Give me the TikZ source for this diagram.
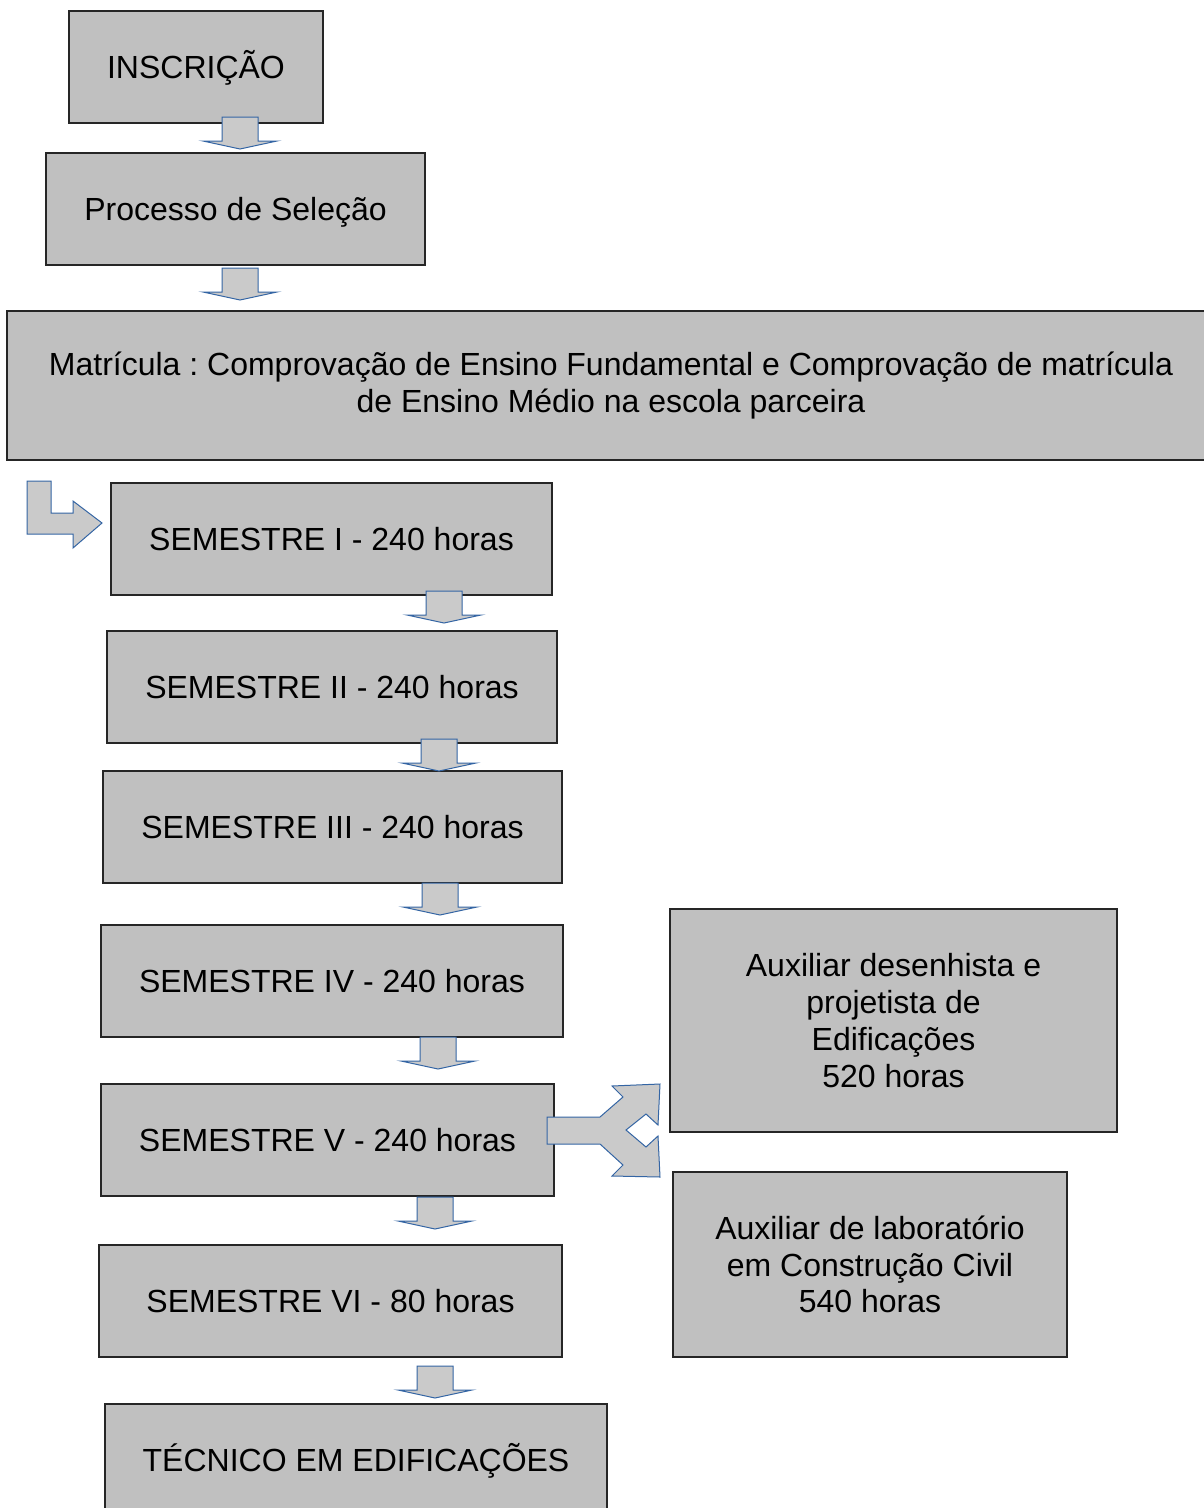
\documentclass[tikz,border=0pt]{standalone}
\usepackage{fontspec}
\setmainfont{Liberation Sans}
\usepackage{tikz}
\usetikzlibrary{calc,positioning}
\usepackage{xcolor}
\definecolor{boxgray}{HTML}{C0C0C0}
\definecolor{arrowgray}{HTML}{CACACA}
\definecolor{arrowblue}{HTML}{3465A4}
\frenchspacing

\tikzset{
  stepbox/.style={draw=black!85, line width=1.2pt, fill=boxgray, inner sep=0pt,
    align=center, font=\fontsize{32}{36.8}\selectfont},
  oneline/.style={text height=23, text depth=0},
  blkarrow/.style={draw=arrowblue, line width=1pt, fill=arrowgray, line join=miter}
}

\begin{document}
\begin{tikzpicture}[x=1pt, y=-1pt]
\clip (0,0) rectangle (1204,1508);
\fill[white] (0,0) rectangle (1204,1508);

% Top of the flow
\node[stepbox, oneline, minimum width=254, minimum height=112] (insc) at (196,67) {INSCRIÇÃO};
\node[stepbox, oneline, minimum width=379, minimum height=112] (sel) at (235.5,209) {Processo de Seleção};
\node[stepbox, minimum width=1208, minimum height=149] (mat) at (611,385.5)
  {Matrícula : Comprovação de Ensino Fundamental e Comprovação de matrícula\\de Ensino Médio na escola parceira};

% The six semesters and the final title
\foreach \i/\x/\y/\w/\t in {1/331.5/539/441/SEMESTRE I - 240 horas,
                             2/332/687/450/SEMESTRE II - 240 horas,
                             3/332.5/827/459/SEMESTRE III - 240 horas,
                             4/332/981/462/SEMESTRE IV - 240 horas,
                             5/327.5/1140/453/SEMESTRE V - 240 horas,
                             6/330.5/1301/463/SEMESTRE VI - 80 horas} {
    \node[stepbox, oneline, minimum width=\w, minimum height=112] (s\i) at (\x,\y) {\t};
}
\node[stepbox, oneline, minimum width=502, minimum height=112] (tec) at (356,1460) {TÉCNICO EM EDIFICAÇÕES};

% Certifications on the right
\node[stepbox, minimum width=447, minimum height=223] (aux1) at (893.5,1020.5)
  {Auxiliar desenhista e\\projetista de\\Edificações\\520 horas};
\node[stepbox, minimum width=394, minimum height=185] (aux2) at (870,1264.5)
  {Auxiliar de laboratório\\em Construção Civil\\540 horas};

% Block arrows pointing down
\foreach \x/\y in {240/117, 240/268, 444/591, 439/739, 440/883, 438/1037, 435/1197, 435/1366} {
    \draw[blkarrow, shift={(\x,\y)}] (-18,0) -- (18,0) -- (18,24) -- (37,24) -- (0,32)
      -- (-37,24) -- (-18,24) -- cycle;
}

% Bent arrow into the first semester
\draw[blkarrow] (27,481) -- (51,481) -- (51,513) -- (73,513) -- (73,501) -- (102,523)
  -- (73,548) -- (73,534) -- (27,534) -- cycle;

% Split arrow from semester V to both certifications
\draw[blkarrow] (547,1117) -- (600,1117) -- (623,1097) -- (612,1086) -- (660,1084)
  -- (658,1125) -- (646,1114) -- (626,1130) -- (646,1147) -- (658,1136) -- (660,1177)
  -- (612,1176) -- (623,1165) -- (600,1144) -- (547,1144) -- cycle;

\end{tikzpicture}
\end{document}
